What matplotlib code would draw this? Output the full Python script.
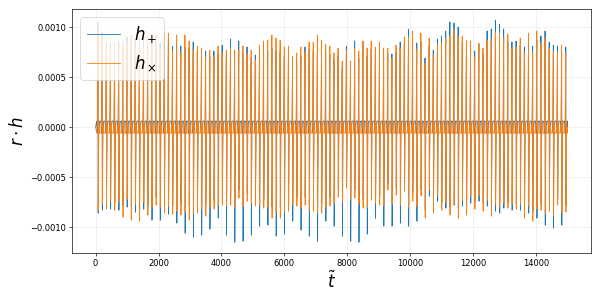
import numpy as np
import matplotlib
matplotlib.use("Agg")
import matplotlib.pyplot as plt

# burst (periastron) times in t~ units
t_first = 80.0
t_step = 131.6

# peak values at each burst, units of 1e-4
hp_max = [10.5, 9.5, 8.1, 8.4, 7.9, 8.6, 7.7, 9.0, 8.2, 8.7,
          8.1, 8.6, 8.0, 8.8, 8.3, 8.4, 8.4, 8.7, 8.1, 8.2,
          8.1, 8.0, 7.9, 8.5, 7.4, 7.3, 7.6, 7.0, 7.6, 7.3,
          8.2, 7.0, 8.8, 7.1, 8.6, 7.3, 8.0, 7.0, 7.2, 7.1,
          7.4, 7.6, 7.9, 7.6, 7.5, 7.0, 7.2, 6.4, 6.6, 7.1,
          8.0, 7.8, 7.6, 8.1, 7.7, 7.4, 7.3, 6.7, 7.2, 6.0,
          8.1, 6.0, 8.6, 6.9, 8.5, 7.1, 7.8, 7.3, 7.7, 7.2,
          7.3, 7.3, 7.5, 8.5, 8.2, 9.8, 8.6, 8.4, 8.5, 6.9,
          8.1, 7.7, 8.8, 9.1, 9.6, 10.5, 10.4, 10.0, 8.5, 8.0,
          8.0, 7.6, 8.3, 7.3, 9.6, 9.8, 10.7, 10.3, 9.8, 8.6,
          8.5, 8.6, 8.2, 8.0, 8.5, 8.1, 8.7, 9.1, 9.6, 8.5,
          8.2, 8.1, 7.5, 8.0]
hx_max = [9.6, 8.7, 8.6, 7.8, 8.4, 8.0, 8.6, 8.3, 9.2, 8.0,
          9.0, 7.9, 9.0, 8.1, 9.2, 7.9, 9.4, 9.4, 7.6, 9.2,
          7.5, 9.2, 8.6, 7.7, 8.1, 7.9, 7.0, 7.7, 7.1, 8.1,
          7.4, 7.7, 7.9, 7.7, 7.7, 8.1, 7.3, 7.7, 6.7, 8.2,
          8.6, 8.7, 9.2, 8.9, 8.7, 8.0, 8.1, 7.1, 7.4, 8.0,
          7.5, 8.5, 8.5, 9.2, 8.7, 8.3, 8.1, 7.4, 7.9, 6.6,
          7.7, 6.6, 7.9, 7.6, 8.6, 7.9, 8.6, 8.0, 8.5, 7.9,
          7.9, 6.9, 8.2, 7.9, 9.0, 9.0, 9.6, 7.8, 9.4, 6.4,
          8.9, 7.2, 8.2, 8.4, 8.9, 9.1, 9.7, 9.0, 9.1, 8.7,
          8.6, 7.0, 8.4, 7.9, 8.7, 8.8, 9.5, 9.4, 8.9, 9.3,
          7.9, 8.0, 8.9, 7.4, 9.4, 7.5, 9.6, 8.4, 8.9, 7.9,
          7.6, 7.5, 8.2, 7.4]
hp_min = [-8.6, -8.3, -7.5, -8.2, -7.6, -8.3, -7.9, -8.0, -8.0, -8.5,
          -8.2, -8.2, -7.9, -9.3, -7.0, -9.3, -7.7, -8.7, -7.8, -9.6,
          -7.6, -10.6, -7.8, -11.0, -7.5, -10.8, -7.6, -10.2, -7.3, -9.1,
          -6.9, -10.8, -6.8, -11.5, -6.3, -11.4, -6.6, -10.8, -6.9, -9.9,
          -7.2, -9.8, -8.0, -10.9, -8.1, -10.7, -7.5, -9.4, -7.0, -10.3,
          -7.0, -10.9, -7.4, -11.4, -7.6, -9.4, -7.0, -9.9, -6.2, -10.9,
          -5.5, -11.4, -6.3, -11.5, -7.2, -10.7, -6.5, -9.1, -6.9, -9.9,
          -5.7, -9.9, -6.1, -9.6, -5.8, -9.9, -6.6, -9.4, -6.2, -8.3,
          -6.9, -7.9, -7.4, -7.6, -8.1, -8.0, -7.8, -8.2, -7.9, -8.0,
          -7.6, -7.5, -7.4, -7.6, -7.9, -8.1, -8.4, -8.6, -8.1, -7.5,
          -8.3, -7.6, -8.3, -8.3, -8.6, -8.5, -9.1, -7.7, -9.8, -7.7,
          -10.1, -7.2, -9.8, -7.8]
hx_min = [-8.3, -7.6, -8.2, -7.4, -8.3, -7.5, -9.0, -7.2, -9.3, -7.7,
          -9.4, -7.5, -8.8, -8.0, -7.8, -8.0, -8.6, -7.9, -8.7, -8.4,
          -8.8, -8.5, -9.3, -8.6, -8.6, -8.2, -8.9, -8.0, -8.2, -7.8,
          -7.8, -7.9, -7.8, -8.1, -7.1, -7.9, -7.4, -7.6, -7.9, -7.8,
          -8.1, -8.0, -9.1, -8.6, -9.1, -8.4, -8.4, -7.8, -7.9, -8.1,
          -7.8, -8.3, -8.4, -8.6, -8.6, -8.0, -7.9, -7.6, -7.0, -7.5,
          -6.1, -7.2, -7.1, -7.7, -8.1, -8.0, -7.3, -7.6, -7.8, -7.9,
          -6.3, -7.7, -6.8, -7.8, -6.4, -8.0, -7.4, -7.9, -6.9, -9.1,
          -6.3, -8.6, -6.8, -8.3, -7.5, -8.8, -7.7, -9.1, -7.3, -8.8,
          -7.0, -8.2, -6.9, -8.4, -7.3, -8.9, -7.7, -8.0, -7.6, -8.1,
          -7.7, -8.2, -7.7, -9.1, -7.9, -9.4, -8.2, -8.3, -8.6, -8.4,
          -8.8, -7.8, -8.6, -8.5]
# small oscillation between bursts, units of 1e-4
wiggle = 0.6
t_end = 15000.0

scale = 1e-4
t_burst = t_first + t_step * np.arange(len(hp_max))


def build_series(peak_hi, peak_lo, sign):
    tt = [0.0]
    hh = [0.0]
    for tb, hi, lo in zip(t_burst, peak_hi, peak_lo):
        tt += [tb - 45, tb - 20, tb - 3, tb + 3, tb + 20, tb + 45]
        hh += [sign * wiggle, -sign * wiggle, hi, lo,
               -sign * wiggle, sign * wiggle]
    tt.append(t_end)
    hh.append(0.0)
    return np.array(tt), np.array(hh) * scale


t_p, h_p = build_series(hp_max, hp_min, 1)
t_x, h_x = build_series(hx_max, hx_min, -1)

fig, ax = plt.subplots(figsize=(10, 5), dpi=60)
ax.plot(t_p, h_p, lw=1.0, label=r'$h_+$')
ax.plot(t_x, h_x, lw=1.0, label=r'$h_\times$')
ax.set_xlim(-750, 15750)
ax.set_ylim(-0.001257, 0.00118)
ax.grid(alpha=0.25)
ax.set_xlabel(r'$\tilde{t}$', fontsize=20)
ax.set_ylabel(r'$r \cdot h$', fontsize=20)
ax.legend(loc='upper left', fontsize=20)
fig.subplots_adjust(left=0.12, right=0.985, top=0.97, bottom=0.157)
fig.savefig('out.png')
